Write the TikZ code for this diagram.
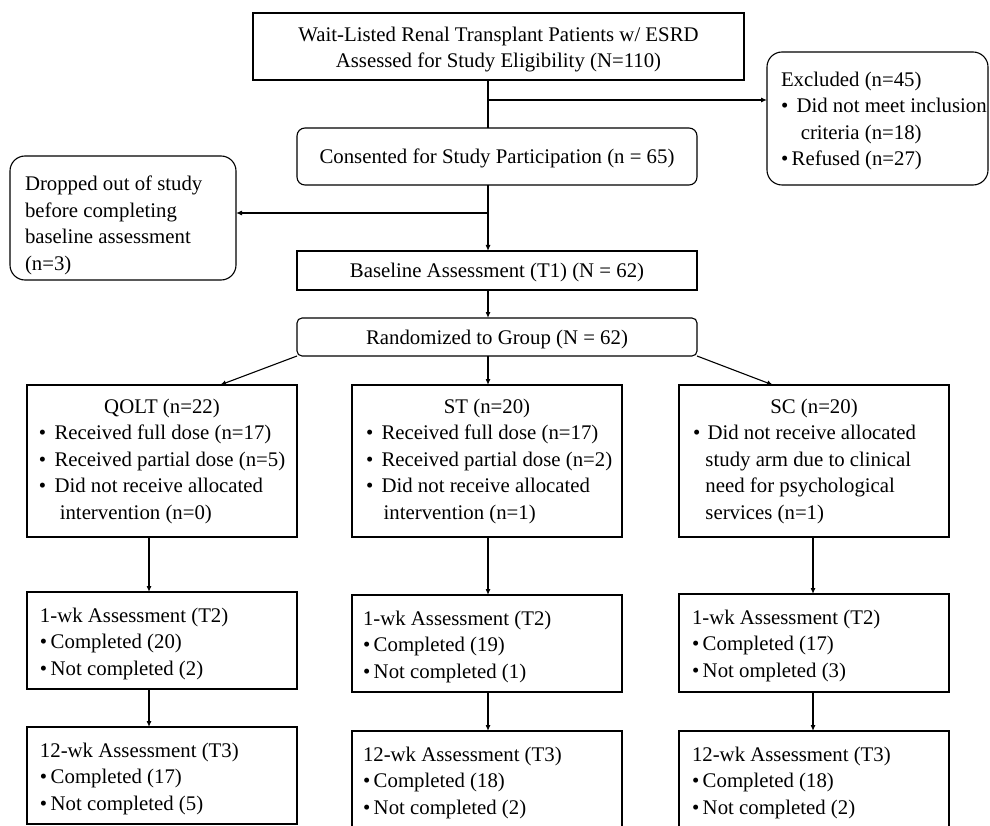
\documentclass[tikz,border=0pt]{standalone}
\usepackage{fontspec}
\setmainfont{Liberation Serif}
\usetikzlibrary{arrows.meta}

% text block inside a box: width, height, top gap, left gap, lines
\newcommand{\cell}[5]{\parbox[c][#2][t]{#1}{\raggedright\leftskip=#4\relax
  \parindent=0pt\vspace*{#3}#5}}
\newcommand{\bitem}{\textbullet\hspace{0.4em}}

\tikzset{
  box/.style={draw, inner sep=0pt, outer sep=0pt},
  rbox/.style={box, rounded corners=#1},
  onebox/.style={box, text height=14pt, text depth=0pt},
  arr/.style={-{Latex[length=6pt,width=5pt]}},
}

\begin{document}
\begin{tikzpicture}[x=1pt, y=-1pt, line width=1.1pt,
    font=\fontsize{20.8}{26.5}\selectfont]
  \clip (0,0) rectangle (990,826);
  \useasboundingbox (0,0) rectangle (990,826);

  \coordinate (colA) at (149,0);
  \coordinate (colB) at (488,0);
  \coordinate (colC) at (813,0);

  % screening
  \node[box] (top) at (498.5,46.5) {\cell{491pt}{67pt}{14pt}{0pt}{\centering
    Wait-Listed Renal Transplant Patients w/ ESRD\\
    Assessed for Study Eligibility (N=110)}};
  \node[rbox=15pt] (excl) at (877.5,118.5) {\cell{221pt}{133pt}{20pt}{14pt}{%
    Excluded (n=45)\\
    \mbox{\textbullet\hspace{0.4em}Did not meet inclusion}\\
    \hspace*{0.95em}criteria (n=18)\\
    \textbullet\,Refused (n=27)}};
  \node[rbox=8pt, onebox, minimum width=400pt, minimum height=57pt] (cons)
    at (497,156.5) {Consented for Study Participation (n = 65)};
  \node[rbox=15pt] (drop) at (123,218) {\cell{226pt}{124pt}{20pt}{15pt}{%
    Dropped out of study\\
    before completing\\
    baseline assessment\\
    (n=3)}};
  \node[box, onebox, minimum width=400pt, minimum height=39pt] (base)
    at (497,270.5) {Baseline Assessment (T1) (N = 62)};
  \node[rbox=5pt, onebox, minimum width=400pt, minimum height=38pt] (rand)
    at (497,337) {Randomized to Group (N = 62)};

  % allocation
  \node[box] (qolt) at (162,461) {\cell{270pt}{152pt}{14pt}{12pt}{%
    {\centering QOLT (n=22)\par}
    \bitem Received full dose (n=17)\\
    \bitem Received partial dose (n=5)\\
    \bitem Did not receive allocated\\
    \hspace*{1em}intervention (n=0)}};
  \node[box] (st) at (487,461) {\cell{270pt}{152pt}{14pt}{14pt}{%
    {\centering ST (n=20)\par}
    \bitem Received full dose (n=17)\\
    \bitem Received partial dose (n=2)\\
    \bitem Did not receive allocated\\
    \hspace*{0.85em}intervention (n=1)}};
  \node[box] (sc) at (814,461) {\cell{270pt}{152pt}{14pt}{14pt}{%
    {\centering SC (n=20)\par}
    \textbullet\hspace{0.35em}Did not receive allocated\\
    \hspace*{0.6em}study arm due to clinical\\
    \hspace*{0.6em}need for psychological\\
    \hspace*{0.6em}services (n=1)}};

  % follow-up
  \node[box] (qoltA) at (162,640.5) {\cell{270pt}{97pt}{16pt}{13pt}{%
    1-wk Assessment (T2)\\
    \textbullet\,Completed (20)\\
    \textbullet\,Not completed (2)}};
  \node[box] (stA) at (487,643.5) {\cell{270pt}{97pt}{16pt}{11pt}{%
    1-wk Assessment (T2)\\
    \textbullet\,Completed (19)\\
    \textbullet\,Not completed (1)}};
  \node[box] (scA) at (814,643) {\cell{270pt}{98pt}{16pt}{13pt}{%
    1-wk Assessment (T2)\\
    \textbullet\,Completed (17)\\
    \textbullet\,Not ompleted (3)}};
  \node[box] (qoltB) at (162,775.5) {\cell{270pt}{97pt}{16pt}{13pt}{%
    12-wk Assessment (T3)\\
    \textbullet\,Completed (17)\\
    \textbullet\,Not completed (5)}};
  \node[box] (stB) at (487,782) {\cell{270pt}{102pt}{16pt}{11pt}{%
    12-wk Assessment (T3)\\
    \textbullet\,Completed (18)\\
    \textbullet\,Not completed (2)}};
  \node[box] (scB) at (814,782) {\cell{270pt}{102pt}{16pt}{13pt}{%
    12-wk Assessment (T3)\\
    \textbullet\,Completed (18)\\
    \textbullet\,Not completed (2)}};

  % connectors
  \coordinate (outA) at (488,100);
  \coordinate (outB) at (488,213);
  \draw (top.south -| colB) -- (cons.north -| colB);
  \draw[arr] (outA) -- (outA -| excl.west);
  \draw[arr] (cons.south -| colB) -- (base.north -| colB);
  \draw[arr] (outB) -- (outB -| drop.east);
  \draw[arr] (base.south -| colB) -- (rand.north -| colB);
  \coordinate (aimA) at (220,0);
  \coordinate (aimC) at (773,0);
  \draw[arr] (rand.south west) -- (qolt.north -| aimA);
  \draw[arr] (rand.south -| colB) -- (st.north -| colB);
  \draw[arr] (rand.south east) -- (sc.north -| aimC);
  \draw[arr] (qolt.south -| colA) -- (qoltA.north -| colA);
  \draw[arr] (qoltA.south -| colA) -- (qoltB.north -| colA);
  \draw[arr] (st.south -| colB) -- (stA.north -| colB);
  \draw[arr] (stA.south -| colB) -- (stB.north -| colB);
  \draw[arr] (sc.south -| colC) -- (scA.north -| colC);
  \draw[arr] (scA.south -| colC) -- (scB.north -| colC);
\end{tikzpicture}
\end{document}
